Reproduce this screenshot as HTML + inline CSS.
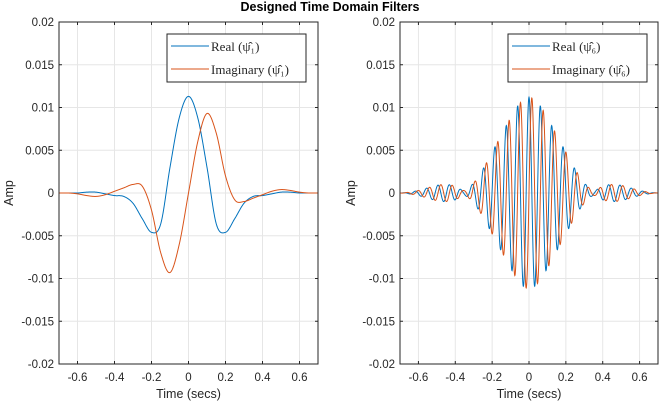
<!DOCTYPE html>
<html><head><meta charset="utf-8"><style>
body{margin:0;background:#fff}
svg{display:block;font-family:"Liberation Sans",sans-serif}
.tk{font-size:11.5px;fill:#262626}
.lg{font-family:"Liberation Serif",serif;font-size:13px;fill:#262626}
</style></head><body>
<svg id="c" width="660" height="407" viewBox="0 0 660 407">
<text x="330" y="11" text-anchor="middle" font-weight="bold" font-size="12.5">Designed Time Domain Filters</text>
</svg>
<script>
const xTicks=[-0.6,-0.4,-0.2,0,0.2,0.4,0.6];
const yTicks=[-0.02,-0.015,-0.01,-0.005,0,0.005,0.01,0.015,0.02];
const yTickLabels=["-0.02","-0.015","-0.01","-0.005","0","0.005","0.01","0.015","0.02"];
// left panel samples, t = -0.7..0.7 step 0.05
const leftT=[-0.7,-0.65,-0.6,-0.55,-0.5,-0.45,-0.4,-0.35,-0.3,-0.25,-0.2,-0.15,-0.1,-0.05,0,0.05,0.1,0.15,0.2,0.25,0.3,0.35,0.4,0.45,0.5,0.55,0.6,0.65,0.7];
const leftReal=[0,0,0,0.0001,0.0001,-0.0001,-0.0003,-0.0004,-0.0012,-0.003,-0.0046,-0.0036,0.003,0.0088,0.0113,0.0088,0.003,-0.0036,-0.0046,-0.003,-0.0012,-0.0004,-0.0003,-0.0001,0.0001,0.0001,0,0,0];
const leftImag=[0,0,-0.0001,-0.0003,-0.0004,-0.0002,0.0002,0.0006,0.001,0.0008,-0.002,-0.007,-0.0093,-0.006,0,0.006,0.0093,0.007,0.002,-0.0008,-0.001,-0.0006,-0.0002,0.0002,0.0004,0.0003,0.0001,0,0];
// right panel envelope, t = -0.7..0.7 step 0.05, carrier frequency (Hz)
const rightT=leftT;
const rightEnv=[0,0.0001,0.0003,0.0006,0.0009,0.001,0.0008,0.0003,0.0012,0.0028,0.0048,0.0068,0.0088,0.0105,0.0112,0.0105,0.0088,0.0068,0.0048,0.0028,0.0012,0.0003,0.0008,0.001,0.0009,0.0006,0.0003,0.0001,0];
const carrierHz=[16.2];

const NS="http://www.w3.org/2000/svg";
const svg=document.getElementById('c');
function mk(tag,attrs,parent){const e=document.createElementNS(NS,tag);for(const k in attrs)e.setAttribute(k,attrs[k]);(parent||svg).appendChild(e);return e;}
function interp(ts,vs,t){ // Catmull-Rom
  const h=ts[1]-ts[0];let i=Math.floor((t-ts[0])/h);i=Math.max(0,Math.min(ts.length-2,i));
  const u=(t-ts[i])/h;const p0=vs[Math.max(0,i-1)],p1=vs[i],p2=vs[i+1],p3=vs[Math.min(vs.length-1,i+2)];
  return 0.5*((2*p1)+(-p0+p2)*u+(2*p0-5*p1+4*p2-p3)*u*u+(-p0+3*p1-3*p2+p3)*u*u*u);
}
const Y0=22,Y1=364;
const yS=v=>Y1-(v+0.02)/0.04*(Y1-Y0);
function panel(x0,x1,realFn,imagFn,sub,id,legX,ampX){
  const xS=t=>x0+(t+0.7)/1.4*(x1-x0);
  const g=mk('g',{});
  
  
  mk('rect',{x:x0,y:Y0,width:x1-x0,height:Y1-Y0,fill:'#fff'},g);
  xTicks.forEach(t=>{const X=xS(t);
    const l=mk('line',{x1:X,x2:X,y1:Y0,y2:Y1,stroke:'#e6e6e6','stroke-width':1},g);
    
    mk('line',{x1:X,x2:X,y1:Y1,y2:Y1-3,stroke:'#262626'},g);mk('line',{x1:X,x2:X,y1:Y0,y2:Y0+3,stroke:'#262626'},g);
    const tx=mk('text',{x:X,y:Y1+17,'text-anchor':'middle',class:'tk'},g);tx.textContent=String(t);
    });
  yTicks.forEach((v,i)=>{const Y=yS(v);
    const l=mk('line',{x1:x0,x2:x1,y1:Y,y2:Y,stroke:'#e6e6e6','stroke-width':1},g);
    
    mk('line',{x1:x0,x2:x0+3,y1:Y,y2:Y,stroke:'#262626'},g);mk('line',{x1:x1,x2:x1-3,y1:Y,y2:Y,stroke:'#262626'},g);
    const tx=mk('text',{x:x0-5,y:Y+4,'text-anchor':'end',class:'tk'},g);tx.textContent=yTickLabels[i];
    });
  const N=1400;let dr='',di='';
  for(let k=0;k<=N;k++){const t=-0.7+1.4*k/N;const X=xS(t).toFixed(2);
    dr+=(k?'L':'M')+X+','+yS(realFn(t)).toFixed(2);di+=(k?'L':'M')+X+','+yS(imagFn(t)).toFixed(2);}
  const pr=mk('path',{d:dr,fill:'none',stroke:'#0072bd','stroke-width':1},g);
  
  const pi=mk('path',{d:di,fill:'none',stroke:'#d95319','stroke-width':1},g);
  
  mk('rect',{x:x0,y:Y0,width:x1-x0,height:Y1-Y0,fill:'none',stroke:'#262626','stroke-width':1},g);
  const xl=mk('text',{x:(x0+x1)/2,y:Y1+34,'text-anchor':'middle','font-size':'12.5',fill:'#262626'},g);xl.textContent='Time (secs)';
  
  const yl=mk('text',{x:ampX,y:193,'text-anchor':'middle','font-size':'12.5',fill:'#262626',transform:`rotate(-90 ${ampX} 193)`},g);yl.textContent='Amp';
  
  const lg=mk('g',{},g);
  
  mk('rect',{x:legX,y:34,width:139,height:48,fill:'#fff',stroke:'#262626','stroke-width':1},lg);
  mk('line',{x1:legX+4,x2:legX+42,y1:46,y2:46,stroke:'#0072bd'},lg);
  mk('line',{x1:legX+4,x2:legX+42,y1:69,y2:69,stroke:'#d95319'},lg);
  const t1=mk('text',{x:legX+44,y:51,class:'lg'},lg);t1.textContent='Real  (ψ̂'+sub+')';
  
  const t2=mk('text',{x:legX+44,y:74,class:'lg'},lg);t2.textContent='Imaginary  (ψ̂'+sub+')';
  
}
panel(59,318,t=>interp(leftT,leftReal,t),t=>interp(leftT,leftImag,t),'₁','left',167,13);
const f=carrierHz[0];
panel(400,658,t=>interp(rightT,rightEnv,t)*Math.cos(2*Math.PI*f*t),t=>interp(rightT,rightEnv,t)*Math.sin(2*Math.PI*f*t),'₆','right',508,355);
</script>
</body></html>
